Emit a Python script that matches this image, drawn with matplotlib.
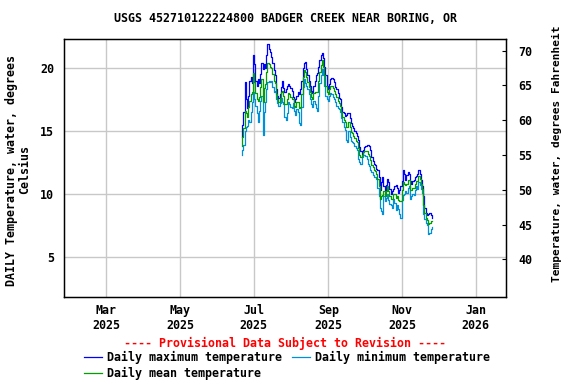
import matplotlib
matplotlib.use("Agg")
import matplotlib.pyplot as plt
import pandas as pd

# daily values, starting 2025-06-21
start_date = "2025-06-21"
daily_max = [
    14.5, 15.5, 16.5, 18.9, 17.5, 16.8, 17.8, 19.0, 19.3, 18.8,
    21.0, 20.3, 19.0, 18.6, 19.1, 18.8, 19.5, 20.4, 19.9, 20.3,
    20.0, 21.0, 21.9, 21.5, 21.3, 20.9, 20.4, 19.8, 19.4, 18.3,
    17.8, 17.6, 17.9, 18.5, 19.0, 18.4, 18.1, 18.3, 18.6, 18.7,
    18.6, 18.4, 18.2, 17.7, 17.3, 17.5, 17.8, 18.1, 17.9, 18.3,
    19.0, 20.0, 20.4, 20.5, 19.9, 19.4, 19.0, 18.6, 18.2, 18.0,
    18.6, 19.0, 19.4, 19.6, 20.1, 20.6, 21.0, 21.2, 20.8, 20.1,
    19.4, 18.6, 18.3, 18.7, 19.1, 19.2, 19.1, 18.9, 18.5, 18.3,
    18.0, 17.6, 17.5, 16.9, 16.5, 16.4, 16.2, 16.3, 16.4, 16.4,
    16.0, 15.6, 15.4, 15.2, 15.0, 14.8, 14.6, 14.3, 13.7, 13.4,
    13.2, 13.5, 13.7, 13.8, 13.9, 13.9, 13.8, 13.5, 12.9, 12.6,
    12.4, 12.3, 12.0, 11.9, 11.3, 10.3, 10.9, 11.3, 10.6, 10.2,
    10.7, 11.2, 10.9, 10.4, 10.0, 10.2, 10.4, 10.6, 10.7, 10.5,
    10.1, 10.3, 10.6, 11.0, 11.9, 11.6, 11.1, 11.5, 11.7, 11.6,
    11.0, 10.8, 11.0, 11.1, 11.3, 11.4, 11.6, 11.9, 11.6, 11.1,
    10.6, 9.8, 8.9, 8.5, 8.3, 8.4, 8.5, 8.3, 8.1,
]
daily_min = [
    13.1, 13.5, 13.9, 15.0, 15.3, 15.4, 15.9, 15.7, 16.5, 17.3,
    18.1, 17.5, 17.0, 16.4, 15.7, 16.6, 17.4, 17.8, 14.7, 16.5,
    17.3, 18.3, 18.9, 19.0, 18.9, 19.0, 18.5, 18.1, 18.2, 17.5,
    17.2, 17.0, 17.2, 17.6, 17.3, 17.1, 16.1, 15.9, 16.4, 17.3,
    17.1, 16.9, 16.8, 17.2, 16.6, 16.3, 16.7, 16.5, 15.6, 15.5,
    16.9, 18.5, 19.1, 18.8, 18.6, 18.3, 17.9, 17.5, 17.1, 16.9,
    17.4, 17.1, 16.8, 16.6, 17.8, 18.8, 19.4, 19.9, 19.4, 18.6,
    17.8, 17.5, 17.4, 17.8, 18.0, 17.9, 17.7, 17.5, 17.3, 17.0,
    16.8, 16.7, 16.5, 16.0, 15.7, 15.3, 15.1, 14.3, 14.1, 15.0,
    14.5, 14.2, 14.1, 14.0, 13.8, 13.6, 13.5, 12.8, 12.5, 12.4,
    12.9, 13.1, 13.1, 13.0, 12.8, 12.4, 12.2, 11.9, 11.7, 11.5,
    11.3, 11.3, 11.2, 10.5, 9.8, 8.9, 8.6, 8.4, 9.8, 9.4,
    9.7, 10.0, 9.5, 9.2, 9.1, 8.9, 9.6, 9.3, 8.7, 9.1,
    8.8, 8.4, 8.1, 9.5, 9.9, 10.0, 10.2, 10.1, 10.5, 10.6,
    9.6, 9.8, 10.0, 9.9, 10.3, 10.6, 10.4, 10.9, 10.7, 10.4,
    10.1, 8.4, 8.0, 7.7, 7.5, 6.8, 6.9, 7.2, 7.4,
]
daily_mean = [
    13.8, 14.5, 15.2, 16.6, 16.4, 16.1, 16.9, 17.4, 17.9, 18.1,
    19.6, 18.9, 18.0, 17.5, 17.4, 17.7, 18.5, 19.1, 17.3, 18.4,
    18.7, 19.7, 20.4, 20.3, 20.1, 20.0, 19.5, 19.0, 18.8, 17.9,
    17.5, 17.3, 17.6, 18.1, 18.2, 17.8, 17.1, 17.1, 17.5, 18.0,
    17.9, 17.7, 17.5, 17.5, 17.0, 16.9, 17.3, 17.3, 16.8, 16.9,
    17.9, 19.3, 19.8, 19.7, 19.3, 18.9, 18.5, 18.1, 17.7, 17.5,
    18.0, 18.1, 18.1, 18.1, 19.0, 19.7, 20.2, 20.6, 20.1, 19.4,
    18.6, 18.1, 17.9, 18.3, 18.6, 18.6, 18.4, 18.2, 17.9, 17.7,
    17.4, 17.2, 17.0, 16.5, 16.1, 15.9, 15.7, 15.3, 15.3, 15.7,
    15.3, 14.9, 14.8, 14.6, 14.4, 14.2, 14.1, 13.6, 13.1, 12.9,
    13.1, 13.3, 13.4, 13.4, 13.4, 13.2, 13.0, 12.7, 12.3, 12.1,
    11.9, 11.8, 11.6, 11.2, 10.6, 9.6, 9.8, 9.9, 10.2, 9.8,
    10.2, 10.6, 10.2, 9.8, 9.6, 9.6, 10.0, 10.0, 9.7, 9.8,
    9.5, 9.4, 9.4, 10.3, 10.9, 10.8, 10.7, 10.8, 11.1, 11.1,
    10.3, 10.3, 10.5, 10.5, 10.8, 11.0, 11.0, 11.4, 11.2, 10.8,
    10.4, 9.1, 8.5, 8.1, 7.9, 7.6, 7.7, 7.8, 7.8,
]

dates = pd.date_range(start_date, periods=len(daily_max), freq="D")
tick_dates = pd.to_datetime(["2025-03-01", "2025-05-01", "2025-07-01",
                             "2025-09-01", "2025-11-01", "2026-01-01"])
tick_labels = ["Mar\n2025", "May\n2025", "Jul\n2025", "Sep\n2025", "Nov\n2025", "Jan\n2026"]
c_ticks = [5, 10, 15, 20]
f_ticks = [40, 45, 50, 55, 60, 65, 70]

plt.rcParams["font.family"] = "DejaVu Sans Mono"
plt.rcParams["font.weight"] = "bold"
fs = 8.4

fig = plt.figure(figsize=(5.76, 3.84), dpi=100)
ax = fig.add_axes([64 / 576, 1 - 297 / 384, 442 / 576, 258 / 384])

lmax, = ax.plot(dates, daily_max, color="#0000ff", lw=0.9, drawstyle="steps-mid")
lmin, = ax.plot(dates, daily_min, color="#0090d8", lw=0.9, drawstyle="steps-mid")
lmean, = ax.plot(dates, daily_mean, color="#00a000", lw=0.9, drawstyle="steps-mid")

ax.set_xlim(pd.Timestamp("2025-01-25"), pd.Timestamp("2026-01-26"))
ax.set_ylim(1.8, 22.3)
ax.set_xticks(tick_dates)
ax.set_xticklabels(tick_labels, fontsize=fs, fontweight="bold")
ax.set_yticks(c_ticks)
ax.set_yticklabels([str(v) for v in c_ticks], fontsize=fs, fontweight="bold")
ax.tick_params(axis="both", length=0, pad=7)
ax.tick_params(axis="x", pad=5)
ax.grid(True, color="#c8c8c8", lw=1.0)
ax.set_axisbelow(True)
for sp in ax.spines.values():
    sp.set_linewidth(1.0)

ax2 = ax.twinx()
ax2.set_ylim(34.58, 71.68)
ax2.set_yticks(f_ticks)
ax2.set_yticklabels([str(v) for v in f_ticks], fontsize=fs, fontweight="bold")
ax2.tick_params(axis="y", direction="in", length=3, pad=9)

fig.text(285 / 576, 1 - 19 / 384, "USGS 452710122224800 BADGER CREEK NEAR BORING, OR",
         ha="center", va="center", fontsize=fs, fontweight="bold")
fig.text(18 / 576, 1 - 170 / 384, "DAILY Temperature, water, degrees\nCelsius",
         ha="center", va="center", rotation=90, fontsize=fs, fontweight="bold",
         linespacing=1.0)
fig.text(557 / 576, 1 - 154 / 384, "Temperature, water, degrees Fahrenheit",
         ha="center", va="center", rotation=90, fontsize=8.0, fontweight="bold")
fig.text(285 / 576, 1 - 343 / 384, "---- Provisional Data Subject to Revision ----",
         ha="center", va="center", color="red", fontsize=fs, fontweight="bold")

fig.legend([lmax, lmean, lmin],
           ["Daily maximum temperature", "Daily mean temperature", "Daily minimum temperature"],
           ncol=2, loc="upper left", bbox_to_anchor=(84 / 576, 1 - 351 / 384),
           frameon=False, fontsize=fs, handlelength=1.55, handletextpad=0.45,
           columnspacing=0.8, labelspacing=0.25, borderpad=0, borderaxespad=0)

fig.savefig("out.png", dpi=100)
